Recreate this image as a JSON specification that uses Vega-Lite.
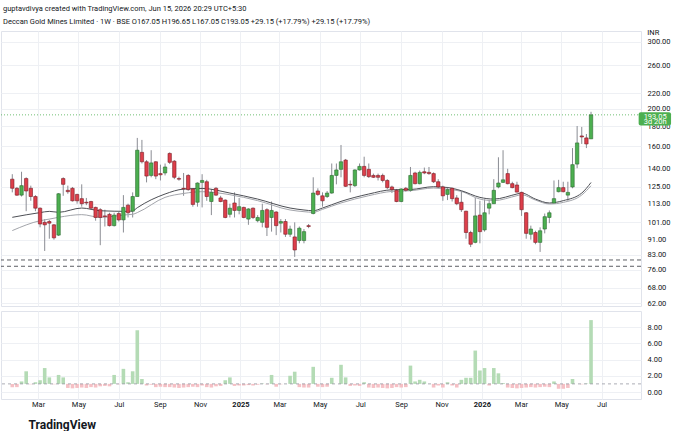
{
  "$schema": "https://vega.github.io/schema/vega-lite/v6.json",
  "background": "white",
  "padding": {"left": 0, "right": 0, "top": 4, "bottom": 0},
  "title": {
    "text": "guptavdivya created with TradingView.com, Jun 15, 2026 20:29 UTC+5:30",
    "subtitle": "Deccan Gold Mines Limited · 1W · BSE  O167.05  H196.65  L167.05  C193.05  +29.15 (+17.79%)  +29.15 (+17.79%)",
    "anchor": "start",
    "font": "Roboto",
    "fontSize": 7.5,
    "fontWeight": "normal",
    "color": "#131722",
    "subtitleFont": "Roboto",
    "subtitleFontSize": 7.5,
    "subtitleColor": "#131722",
    "subtitlePadding": 6,
    "offset": 3,
    "dx": 3
  },
  "config": {
    "font": "Roboto",
    "view": {"stroke": "#e0e3eb"},
    "axis": {
      "labelFont": "Roboto",
      "labelFontSize": 7.5,
      "labelColor": "#131722",
      "labelOverlap": false,
      "gridColor": "#eef0f4",
      "gridWidth": 1,
      "domain": false,
      "ticks": false
    },
    "concat": {"spacing": 2}
  },
  "datasets": {
    "candles": [
      {"d":"2024-01-22","o":131,"h":135,"l":121,"c":124,"v":0.6},
      {"d":"2024-01-29","o":124,"h":125,"l":118.5,"c":119,"v":0.6},
      {"d":"2024-02-05","o":119,"h":137,"l":118,"c":126,"v":1.3},
      {"d":"2024-02-12","o":131.5,"h":132.5,"l":108,"c":122,"v":2.55},
      {"d":"2024-02-19","o":124,"h":126,"l":115,"c":118,"v":0.95},
      {"d":"2024-02-26","o":118,"h":119,"l":108,"c":110,"v":1.2},
      {"d":"2024-03-04","o":110,"h":110.5,"l":98,"c":100,"v":1.45},
      {"d":"2024-03-11","o":101,"h":103,"l":85,"c":99.5,"v":2.95},
      {"d":"2024-03-18","o":101.5,"h":102.5,"l":91.5,"c":100.5,"v":1.8},
      {"d":"2024-03-25","o":99.5,"h":100,"l":91,"c":92,"v":0.95},
      {"d":"2024-04-01","o":93.5,"h":120.5,"l":93,"c":120,"v":2.1},
      {"d":"2024-04-08","o":131.5,"h":132.5,"l":118.5,"c":127,"v":1.8},
      {"d":"2024-04-15","o":122.5,"h":126,"l":120,"c":121.5,"v":0.5},
      {"d":"2024-04-22","o":124,"h":125,"l":114.5,"c":115,"v":0.45},
      {"d":"2024-04-29","o":119.5,"h":120,"l":113,"c":115,"v":0.5},
      {"d":"2024-05-06","o":116.5,"h":127,"l":111,"c":113,"v":0.55},
      {"d":"2024-05-13","o":114,"h":117,"l":112,"c":113.5,"v":0.5},
      {"d":"2024-05-20","o":114.5,"h":115,"l":109,"c":110,"v":0.6},
      {"d":"2024-05-27","o":110.5,"h":111,"l":102,"c":104,"v":0.55},
      {"d":"2024-06-03","o":109,"h":110,"l":88,"c":104,"v":0.7},
      {"d":"2024-06-10","o":105,"h":109,"l":98.5,"c":104.5,"v":0.75},
      {"d":"2024-06-17","o":106,"h":107,"l":98.5,"c":99,"v":0.7},
      {"d":"2024-06-24","o":99,"h":107,"l":98.5,"c":105.5,"v":2.1},
      {"d":"2024-07-01","o":106.5,"h":107.5,"l":101.5,"c":102.5,"v":0.95},
      {"d":"2024-07-08","o":102.5,"h":119,"l":95,"c":110.5,"v":2.85},
      {"d":"2024-07-15","o":112,"h":113,"l":104,"c":107,"v":1.2},
      {"d":"2024-07-22","o":108,"h":121,"l":104,"c":118,"v":2.55},
      {"d":"2024-07-29","o":118,"h":168,"l":118,"c":156,"v":7.6},
      {"d":"2024-08-05","o":154,"h":166,"l":144,"c":145.5,"v":1.6},
      {"d":"2024-08-12","o":145.5,"h":147,"l":128.5,"c":133.5,"v":0.8},
      {"d":"2024-08-19","o":134,"h":156,"l":132.5,"c":144.5,"v":0.9},
      {"d":"2024-08-26","o":145.5,"h":146,"l":131,"c":133.5,"v":0.6},
      {"d":"2024-09-02","o":135.5,"h":143,"l":130,"c":134.5,"v":0.65},
      {"d":"2024-09-09","o":136,"h":144,"l":134,"c":141,"v":0.6},
      {"d":"2024-09-16","o":153,"h":154,"l":143.5,"c":145,"v":0.6},
      {"d":"2024-09-23","o":146,"h":147,"l":131,"c":132.5,"v":0.55},
      {"d":"2024-09-30","o":131.5,"h":133,"l":129.8,"c":131,"v":0.5},
      {"d":"2024-10-07","o":124,"h":136,"l":118.5,"c":123.5,"v":0.55},
      {"d":"2024-10-14","o":134,"h":135,"l":122.2,"c":123,"v":0.6},
      {"d":"2024-10-21","o":123.5,"h":124,"l":111,"c":112.5,"v":0.65},
      {"d":"2024-10-28","o":114,"h":128.5,"l":111,"c":128,"v":0.6},
      {"d":"2024-11-04","o":128.5,"h":135,"l":110.5,"c":130,"v":0.8},
      {"d":"2024-11-11","o":129,"h":130.5,"l":115,"c":118,"v":0.6},
      {"d":"2024-11-18","o":114.5,"h":123.5,"l":105.5,"c":121,"v":0.55},
      {"d":"2024-11-25","o":124,"h":125,"l":118.5,"c":119,"v":0.7},
      {"d":"2024-12-02","o":117,"h":118.5,"l":114,"c":114.5,"v":0.75},
      {"d":"2024-12-09","o":115.5,"h":116,"l":103.5,"c":104,"v":1.45},
      {"d":"2024-12-16","o":106,"h":113,"l":104,"c":110,"v":1.8},
      {"d":"2024-12-23","o":113.5,"h":121,"l":104,"c":108.5,"v":0.75},
      {"d":"2024-12-30","o":108.5,"h":117,"l":106,"c":111,"v":0.8},
      {"d":"2025-01-06","o":110.5,"h":111,"l":103.5,"c":104,"v":0.8},
      {"d":"2025-01-13","o":103,"h":110,"l":99.5,"c":109.5,"v":0.85},
      {"d":"2025-01-20","o":110,"h":110.5,"l":103,"c":104,"v":0.8},
      {"d":"2025-01-27","o":102,"h":105.5,"l":101,"c":104,"v":0.9},
      {"d":"2025-02-03","o":101,"h":113,"l":98,"c":108.5,"v":1.05},
      {"d":"2025-02-10","o":109,"h":110,"l":93,"c":98,"v":0.95},
      {"d":"2025-02-17","o":104,"h":114.5,"l":95.5,"c":108.5,"v":2.1},
      {"d":"2025-02-24","o":107.5,"h":108,"l":93.5,"c":99,"v":0.65},
      {"d":"2025-03-03","o":100.5,"h":103,"l":95,"c":101.5,"v":0.95},
      {"d":"2025-03-10","o":101.5,"h":103,"l":92.5,"c":94,"v":1.0},
      {"d":"2025-03-17","o":94,"h":99,"l":92.5,"c":97,"v":2.0},
      {"d":"2025-03-24","o":92.5,"h":101,"l":82,"c":85.5,"v":2.5},
      {"d":"2025-03-31","o":90.5,"h":98.5,"l":89,"c":97.5,"v":0.6},
      {"d":"2025-04-07","o":90.5,"h":97,"l":89,"c":95.5,"v":0.55},
      {"d":"2025-04-14","o":99,"h":100,"l":97.5,"c":98.5,"v":0.55},
      {"d":"2025-04-21","o":106.5,"h":132.5,"l":106,"c":120.5,"v":3.1},
      {"d":"2025-04-28","o":122,"h":124,"l":118.5,"c":119.5,"v":0.65},
      {"d":"2025-05-05","o":118.5,"h":121,"l":111,"c":115,"v":0.6},
      {"d":"2025-05-12","o":118,"h":122,"l":117,"c":120.5,"v":0.65},
      {"d":"2025-05-19","o":120.5,"h":144,"l":120,"c":134,"v":1.75},
      {"d":"2025-05-26","o":134,"h":144,"l":127,"c":138.5,"v":1.0},
      {"d":"2025-06-02","o":139,"h":161,"l":132.5,"c":145.5,"v":3.35},
      {"d":"2025-06-09","o":147,"h":148,"l":125,"c":125.5,"v":1.8},
      {"d":"2025-06-16","o":127,"h":130,"l":121,"c":126.5,"v":0.75},
      {"d":"2025-06-23","o":126,"h":139,"l":125,"c":138.5,"v":0.8},
      {"d":"2025-06-30","o":138.5,"h":144,"l":138,"c":141.5,"v":0.75},
      {"d":"2025-07-07","o":141.5,"h":150,"l":132.5,"c":134,"v":1.2},
      {"d":"2025-07-14","o":139,"h":144,"l":132,"c":133,"v":0.55},
      {"d":"2025-07-21","o":134,"h":135.5,"l":132,"c":132.5,"v":0.5},
      {"d":"2025-07-28","o":134,"h":135.5,"l":130,"c":132.5,"v":0.55},
      {"d":"2025-08-04","o":134,"h":135.5,"l":128.5,"c":130,"v":0.5},
      {"d":"2025-08-11","o":130,"h":131,"l":123.5,"c":124.5,"v":0.45},
      {"d":"2025-08-18","o":125,"h":126,"l":120.5,"c":123,"v":0.5},
      {"d":"2025-08-25","o":122.5,"h":123.5,"l":114,"c":114.5,"v":0.6},
      {"d":"2025-09-01","o":114.5,"h":124,"l":114,"c":123.5,"v":0.55},
      {"d":"2025-09-08","o":124,"h":125,"l":121.5,"c":122.5,"v":0.6},
      {"d":"2025-09-15","o":122.5,"h":141,"l":121.5,"c":134,"v":3.25},
      {"d":"2025-09-22","o":136,"h":137,"l":127,"c":127.5,"v":1.3},
      {"d":"2025-09-29","o":127.5,"h":138,"l":127,"c":136.5,"v":1.5},
      {"d":"2025-10-06","o":137,"h":140.5,"l":135,"c":136,"v":1.3},
      {"d":"2025-10-13","o":136.5,"h":141,"l":134.5,"c":135.5,"v":1.0},
      {"d":"2025-10-20","o":135.5,"h":136.5,"l":128,"c":129,"v":0.55},
      {"d":"2025-10-27","o":129,"h":131,"l":124,"c":125,"v":0.8},
      {"d":"2025-11-03","o":125,"h":126,"l":115,"c":118.5,"v":0.55},
      {"d":"2025-11-10","o":119.5,"h":125,"l":115.5,"c":123,"v":1.2},
      {"d":"2025-11-17","o":124,"h":124.5,"l":114.5,"c":116.5,"v":0.8},
      {"d":"2025-11-24","o":117,"h":119,"l":112,"c":113,"v":0.55},
      {"d":"2025-12-01","o":114,"h":122,"l":107.5,"c":109,"v":1.5},
      {"d":"2025-12-08","o":108,"h":108.3,"l":91.5,"c":95,"v":1.75},
      {"d":"2025-12-15","o":95,"h":96,"l":87,"c":88.5,"v":1.75},
      {"d":"2025-12-22","o":89.5,"h":117,"l":89,"c":105,"v":5.1},
      {"d":"2025-12-29","o":105.5,"h":115,"l":89,"c":95.5,"v":2.65},
      {"d":"2026-01-05","o":96.5,"h":116,"l":95.5,"c":107,"v":2.95},
      {"d":"2026-01-12","o":110,"h":115,"l":106,"c":113,"v":0.8},
      {"d":"2026-01-19","o":113,"h":131,"l":113,"c":122.5,"v":2.95},
      {"d":"2026-01-26","o":125,"h":149.5,"l":124,"c":128,"v":2.3},
      {"d":"2026-02-02","o":128.5,"h":156,"l":128,"c":130.5,"v":1.1},
      {"d":"2026-02-09","o":135.5,"h":139.5,"l":127,"c":127.5,"v":0.55},
      {"d":"2026-02-16","o":127.5,"h":129,"l":124,"c":124.5,"v":0.5},
      {"d":"2026-02-23","o":126.5,"h":129,"l":121,"c":121.2,"v":0.45},
      {"d":"2026-03-02","o":121,"h":121.5,"l":105,"c":109,"v":0.5},
      {"d":"2026-03-09","o":107,"h":107.5,"l":91.5,"c":94.5,"v":0.55},
      {"d":"2026-03-16","o":94,"h":99,"l":91,"c":97,"v":0.6},
      {"d":"2026-03-23","o":95,"h":96,"l":88.5,"c":89.5,"v":0.55},
      {"d":"2026-03-30","o":89.5,"h":98,"l":84.5,"c":96,"v":0.6},
      {"d":"2026-04-06","o":97,"h":106.5,"l":94.5,"c":104.5,"v":0.65},
      {"d":"2026-04-13","o":104,"h":108.5,"l":100.5,"c":107,"v":0.6},
      {"d":"2026-04-20","o":113.5,"h":130,"l":113.5,"c":116.5,"v":1.3},
      {"d":"2026-04-27","o":121.5,"h":130.5,"l":121,"c":124.5,"v":0.4},
      {"d":"2026-05-04","o":124.5,"h":129,"l":121,"c":121.5,"v":0.4},
      {"d":"2026-05-11","o":119,"h":129,"l":115,"c":121,"v":0.5},
      {"d":"2026-05-18","o":125,"h":158,"l":124,"c":143,"v":1.6},
      {"d":"2026-05-25","o":143.5,"h":180.5,"l":140,"c":163,"v":1.0},
      {"d":"2026-06-01","o":170,"h":179.5,"l":162,"c":169,"v":0.95},
      {"d":"2026-06-08","o":168,"h":172,"l":158,"c":162,"v":1.05},
      {"d":"2026-06-15","o":167.05,"h":196.65,"l":167.05,"c":193.05,"v":8.85}
    ],
    "ma": [
      {"d":"2024-01-22","m1":104.1,"m2":96.1},
      {"d":"2024-03-04","m1":107.1,"m2":102.0},
      {"d":"2024-03-18","m1":107.9,"m2":103.0},
      {"d":"2024-04-01","m1":107.3,"m2":104.1},
      {"d":"2024-05-06","m1":110.1,"m2":105.8},
      {"d":"2024-06-03","m1":108.3,"m2":104.1},
      {"d":"2024-07-15","m1":107.9,"m2":105.8},
      {"d":"2024-07-22","m1":108.2,"m2":106.0},
      {"d":"2024-07-29","m1":110.3,"m2":107.1},
      {"d":"2024-09-09","m1":119.8,"m2":117.4},
      {"d":"2024-10-07","m1":123.4,"m2":120.2},
      {"d":"2024-11-04","m1":123.9,"m2":121.5},
      {"d":"2024-12-16","m1":120.5,"m2":119.3},
      {"d":"2025-01-27","m1":116.2,"m2":115.1},
      {"d":"2025-03-17","m1":110.1,"m2":108.8},
      {"d":"2025-04-07","m1":108.8,"m2":107.7},
      {"d":"2025-04-21","m1":108.3,"m2":107.3},
      {"d":"2025-05-05","m1":110.1,"m2":109.2},
      {"d":"2025-06-02","m1":114.6,"m2":113.5},
      {"d":"2025-07-14","m1":119.8,"m2":118.6},
      {"d":"2025-08-18","m1":122.9,"m2":121.7},
      {"d":"2025-09-15","m1":123.1,"m2":122.2},
      {"d":"2025-10-20","m1":125.2,"m2":124.2},
      {"d":"2025-11-10","m1":124.6,"m2":123.4},
      {"d":"2025-12-01","m1":122.2,"m2":121.7},
      {"d":"2025-12-29","m1":117.4,"m2":116.2},
      {"d":"2026-01-19","m1":116.2,"m2":115.1},
      {"d":"2026-02-23","m1":119.8,"m2":118.6},
      {"d":"2026-03-02","m1":120.5,"m2":119.3},
      {"d":"2026-03-23","m1":116.2,"m2":115.5},
      {"d":"2026-04-13","m1":113.5,"m2":112.8},
      {"d":"2026-05-04","m1":115.1,"m2":113.9},
      {"d":"2026-06-01","m1":120.5,"m2":119.1},
      {"d":"2026-06-15","m1":128.4,"m2":125.9}
    ],
    "levels": [
      {"p":80.5},
      {"p":77.5}
    ]
  },
  "vconcat": [
    {
      "width": 640,
      "height": 275,
      "layer": [
        {
          "data": {"name": "candles"},
          "mark": {"type": "rule", "color": "#8a8c93", "strokeWidth": 1},
          "encoding": {
            "x": {
              "field": "d", "type": "temporal", "title": null,
              "scale": {"type": "utc", "domain": [{"year":2024,"month":1,"date":12,"hours":12,"utc":true},{"year":2026,"month":8,"date":22,"utc":true}]},
              "axis": {
                "labels": false, "grid": true, "title": null,
                "values": [
                  {"year":2024,"month":3,"date":1,"utc":true},{"year":2024,"month":5,"date":1,"utc":true},{"year":2024,"month":7,"date":1,"utc":true},{"year":2024,"month":9,"date":1,"utc":true},{"year":2024,"month":11,"date":1,"utc":true},
                  {"year":2025,"month":1,"date":1,"utc":true},{"year":2025,"month":3,"date":1,"utc":true},{"year":2025,"month":5,"date":1,"utc":true},{"year":2025,"month":7,"date":1,"utc":true},{"year":2025,"month":9,"date":1,"utc":true},{"year":2025,"month":11,"date":1,"utc":true},
                  {"year":2026,"month":1,"date":1,"utc":true},{"year":2026,"month":3,"date":1,"utc":true},{"year":2026,"month":5,"date":1,"utc":true},{"year":2026,"month":7,"date":1,"utc":true}
                ]
              }
            },
            "y": {
              "field": "l", "type": "quantitative", "title": null,
              "scale": {"type": "log", "domain": [61, 320], "nice": false, "zero": false},
              "axis": {
                "orient": "right", "format": ".2f", "grid": true, "labelPadding": 6, "labelOverlap": false, "title": null,
                "values": [62, 68, 76, 83, 91, 101, 113, 125, 140, 160, 180, 200, 220, 260, 300]
              }
            },
            "y2": {"field": "h"}
          }
        },
        {
          "data": {"name": "levels"},
          "mark": {"type": "rule", "color": "#4a4c52", "strokeDash": [4, 3], "strokeWidth": 0.9},
          "encoding": {
            "y": {"field": "p", "type": "quantitative", "title": null}
          }
        },
        {
          "data": {"values": [{"p": 193.05}]},
          "mark": {"type": "rule", "color": "#4caf50", "strokeDash": [1, 2], "strokeWidth": 1, "opacity": 0.8},
          "encoding": {
            "y": {"field": "p", "type": "quantitative", "title": null}
          }
        },
        {
          "data": {"name": "ma"},
          "mark": {"type": "line", "color": "#a3a5ab", "strokeWidth": 1, "interpolate": "monotone"},
          "encoding": {
            "x": {"field": "d", "type": "temporal", "title": null},
            "y": {"field": "m2", "type": "quantitative", "title": null}
          }
        },
        {
          "data": {"name": "ma"},
          "mark": {"type": "line", "color": "#4d4f55", "strokeWidth": 1, "interpolate": "monotone"},
          "encoding": {
            "x": {"field": "d", "type": "temporal", "title": null},
            "y": {"field": "m1", "type": "quantitative", "title": null}
          }
        },
        {
          "data": {"name": "candles"},
          "mark": {"type": "bar", "width": 3.4, "strokeWidth": 0.6},
          "encoding": {
            "x": {"field": "d", "type": "temporal", "title": null},
            "y": {"field": "o", "type": "quantitative", "title": null},
            "y2": {"field": "c"},
            "color": {"condition": {"test": "datum.c >= datum.o", "value": "#4caf50"}, "value": "#dd3f4b"},
            "stroke": {"condition": {"test": "datum.c >= datum.o", "value": "#2c6a31"}, "value": "#7a1d25"}
          }
        },
        {
          "data": {"values": [{}]},
          "mark": {"type": "rect", "color": "#4caf50", "clip": false, "cornerRadius": 2},
          "encoding": {
            "x": {"datum": {"year":2026,"month":8,"date":26,"utc":true}, "type": "temporal"},
            "x2": {"datum": {"year":2026,"month":10,"date":14,"utc":true}},
            "y": {"datum": 196.2},
            "y2": {"datum": 181.0}
          }
        },
        {
          "data": {"values": [{"t": "193.05", "p": 191.0}, {"t": "3d 20h", "p": 184.4}]},
          "mark": {"type": "text", "color": "white", "fontSize": 7.5, "align": "center", "baseline": "middle", "clip": false},
          "encoding": {
            "x": {"datum": {"year":2026,"month":9,"date":20,"utc":true}, "type": "temporal"},
            "y": {"field": "p", "type": "quantitative", "title": null},
            "text": {"field": "t"}
          }
        },
        {
          "data": {"values": [{"t": "INR", "p": 316}]},
          "mark": {"type": "text", "color": "#131722", "fontSize": 7.5, "align": "left", "baseline": "middle", "clip": false},
          "encoding": {
            "x": {"datum": {"year":2026,"month":9,"date":8,"utc":true}, "type": "temporal"},
            "y": {"field": "p", "type": "quantitative", "title": null},
            "text": {"field": "t"}
          }
        }
      ]
    },
    {
      "width": 640,
      "height": 88,
      "layer": [
        {
          "data": {"name": "candles"},
          "mark": {"type": "bar", "width": 3.6},
          "encoding": {
            "x": {
              "field": "d", "type": "temporal",
              "scale": {"type": "utc", "domain": [{"year":2024,"month":1,"date":12,"hours":12,"utc":true},{"year":2026,"month":8,"date":22,"utc":true}]},
              "axis": {
                "grid": true, "labelPadding": 1,
                "labelExpr": "utcmonth(datum.value) == 0 ? utcFormat(datum.value, '%Y') : utcFormat(datum.value, '%b')",
                "labelFontWeight": {"condition": {"test": "utcmonth(datum.value) == 0", "value": "bold"}, "value": "normal"},
                "title": "TradingView",
                "titleFont": "Roboto",
                "titleFontSize": 12,
                "titleFontWeight": "bold",
                "titleColor": "#131722",
                "titleAlign": "left",
                "titleAnchor": "start",
                "titleBaseline": "middle",
                "titleX": 27,
                "titleY": 25,
                "values": [
                  {"year":2024,"month":3,"date":1,"utc":true},{"year":2024,"month":5,"date":1,"utc":true},{"year":2024,"month":7,"date":1,"utc":true},{"year":2024,"month":9,"date":1,"utc":true},{"year":2024,"month":11,"date":1,"utc":true},
                  {"year":2025,"month":1,"date":1,"utc":true},{"year":2025,"month":3,"date":1,"utc":true},{"year":2025,"month":5,"date":1,"utc":true},{"year":2025,"month":7,"date":1,"utc":true},{"year":2025,"month":9,"date":1,"utc":true},{"year":2025,"month":11,"date":1,"utc":true},
                  {"year":2026,"month":1,"date":1,"utc":true},{"year":2026,"month":3,"date":1,"utc":true},{"year":2026,"month":5,"date":1,"utc":true},{"year":2026,"month":7,"date":1,"utc":true}
                ]
              }
            },
            "y": {
              "field": "v", "type": "quantitative", "title": null,
              "scale": {"domain": [-0.86, 9.97], "nice": false, "zero": false},
              "axis": {"orient": "right", "format": ".2f", "grid": true, "labelPadding": 6, "labelOverlap": false, "values": [0, 2, 4, 6, 8], "title": null}
            },
            "y2": {"datum": 1},
            "color": {"condition": {"test": "datum.v >= 1", "value": "#b4dbb5"}, "value": "#f5c0c5"}
          }
        },
        {
          "data": {"values": [{"b": 1}]},
          "mark": {"type": "rule", "color": "#9598a1", "strokeDash": [3, 3], "strokeWidth": 0.8},
          "encoding": {
            "y": {
              "field": "b", "type": "quantitative", "title": null,
              "axis": {"orient": "right", "format": ".2f", "grid": true, "labelPadding": 6, "labelOverlap": false, "values": [0, 2, 4, 6, 8], "title": null}
            }
          }
        }
      ]
    }
  ]
}
